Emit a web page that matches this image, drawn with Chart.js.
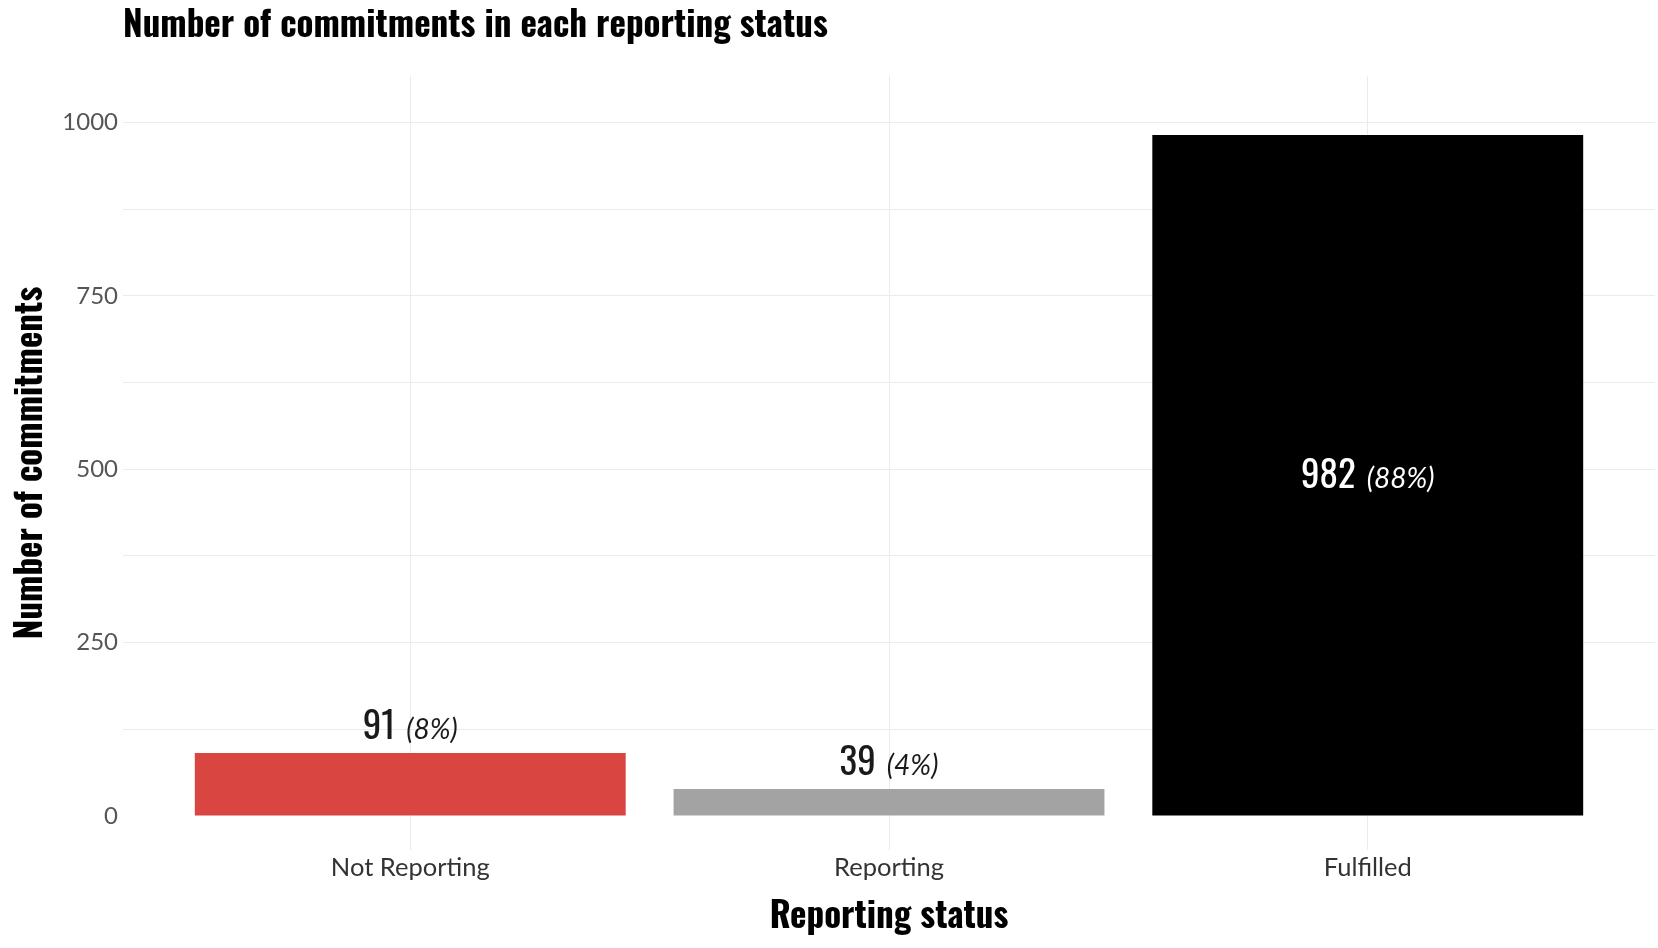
<!DOCTYPE html>
<html>
<head>
<meta charset="utf-8">
<script src="https://cdn.jsdelivr.net/npm/chart.js@4.4.1/dist/chart.umd.min.js"></script>
<style>
  html, body { margin: 0; padding: 0; background: #ffffff; }
  #wrap { width: 1658px; height: 948px; position: relative; }
</style>
</head>
<body>
<div id="wrap"><canvas id="c" width="1658" height="948"></canvas></div>
<script>
// ---- data ----
const categories = ['Not Reporting', 'Reporting', 'Fulfilled'];
const counts = [91, 39, 982];
const barColors = ['#d94540', '#a3a3a3', '#000000'];
const yMajorTicks = [0, 250, 500, 750, 1000];
const yMinorTicks = [125, 375, 625, 875];
const chartTitle = 'Number of commitments in each reporting status';
const xTitle = 'Reporting status';
const yTitle = 'Number of commitments';

const COND = "Oswald, 'DejaVu Sans Condensed', sans-serif";
const total = counts.reduce((a, b) => a + b, 0);
const pcts = counts.map(v => Math.round(v / total * 100));

const barLabels = {
  id: 'barLabels',
  afterDatasetsDraw(chart) {
    const ctx = chart.ctx;
    const meta = chart.getDatasetMeta(0);
    meta.data.forEach((bar, i) => {
      const num = String(counts[i]);
      const pct = '(' + pcts[i] + '%)';
      const gap = 11;
      const numFont = "normal 37px " + COND;
      const pctFont = "italic normal 28px Lato, sans-serif";
      ctx.save();
      ctx.font = numFont;
      const w1 = ctx.measureText(num).width;
      ctx.font = pctFont;
      const w2 = ctx.measureText(pct).width;
      const h = bar.base - bar.y;
      const inside = h > 150;
      const x0 = bar.x - (w1 + gap + w2) / 2;
      const yb = inside ? (bar.y + bar.base) / 2 + 13 : bar.y - 14;
      ctx.fillStyle = inside ? '#ffffff' : '#1a1a1a';
      ctx.textBaseline = 'alphabetic';
      ctx.textAlign = 'left';
      ctx.font = numFont;
      ctx.fillText(num, x0, yb);
      ctx.font = pctFont;
      ctx.fillText(pct, x0 + w1 + gap, yb);
      ctx.restore();
    });
  }
};

new Chart(document.getElementById('c'), {
  type: 'bar',
  data: {
    datasets: [{
      data: categories.map((c, i) => ({ x: i, y: counts[i] })),
      backgroundColor: barColors,
      borderWidth: 0,
      barPercentage: 0.9,
      categoryPercentage: 1.0
    }]
  },
  options: {
    responsive: false,
    animation: false,
    devicePixelRatio: 1,
    layout: { padding: { left: 0, right: 3, top: 0, bottom: 0 } },
    plugins: {
      legend: { display: false },
      tooltip: { enabled: false },
      title: {
        display: true,
        text: chartTitle,
        align: 'start',
        fullSize: false,
        color: '#000000',
        font: { family: COND, size: 35, weight: 'bold', lineHeight: 1.2 },
        padding: { top: 5, bottom: 29 }
      }
    },
    scales: {
      x: {
        type: 'linear',
        min: -0.6,
        max: 2.6,
        offset: false,
        afterBuildTicks: s => { s.ticks = categories.map((c, i) => ({ value: i })); },
        afterFit: s => { s.height = 98; },
        ticks: {
          autoSkip: false,
          maxRotation: 0,
          padding: 2,
          color: '#333333',
          font: { family: 'Lato', size: 25.5 },
          callback: v => categories[v]
        },
        grid: { color: '#ebebeb', lineWidth: 1, drawTicks: false, offset: false },
        border: { display: false },
        title: {
          display: true,
          text: xTitle,
          color: '#000000',
          font: { family: COND, size: 35, weight: 'bold', lineHeight: 1.2 },
          padding: { top: 0, bottom: 10 }
        }
      },
      y: {
        min: -49,
        max: 1067,
        afterBuildTicks: s => {
          s.ticks = yMajorTicks.concat(yMinorTicks).sort((a, b) => a - b).map(v => ({ value: v }));
        },
        afterFit: s => { s.width = 123; },
        ticks: {
          padding: 5,
          color: '#555555',
          font: { family: 'Lato', size: 24 },
          callback: v => (yMajorTicks.includes(v) ? String(v) : '')
        },
        grid: {
          drawTicks: false,
          lineWidth: 1,
          color: c => (c.tick && c.tick.value === 0 ? 'rgba(0,0,0,0)' : '#ebebeb')
        },
        border: { display: false },
        title: {
          display: true,
          text: yTitle,
          color: '#000000',
          font: { family: COND, size: 35, weight: 'bold', lineHeight: 1.2 },
          padding: { top: 10, bottom: 0 }
        }
      }
    }
  },
  plugins: [barLabels]
});
</script>
</body>
</html>
